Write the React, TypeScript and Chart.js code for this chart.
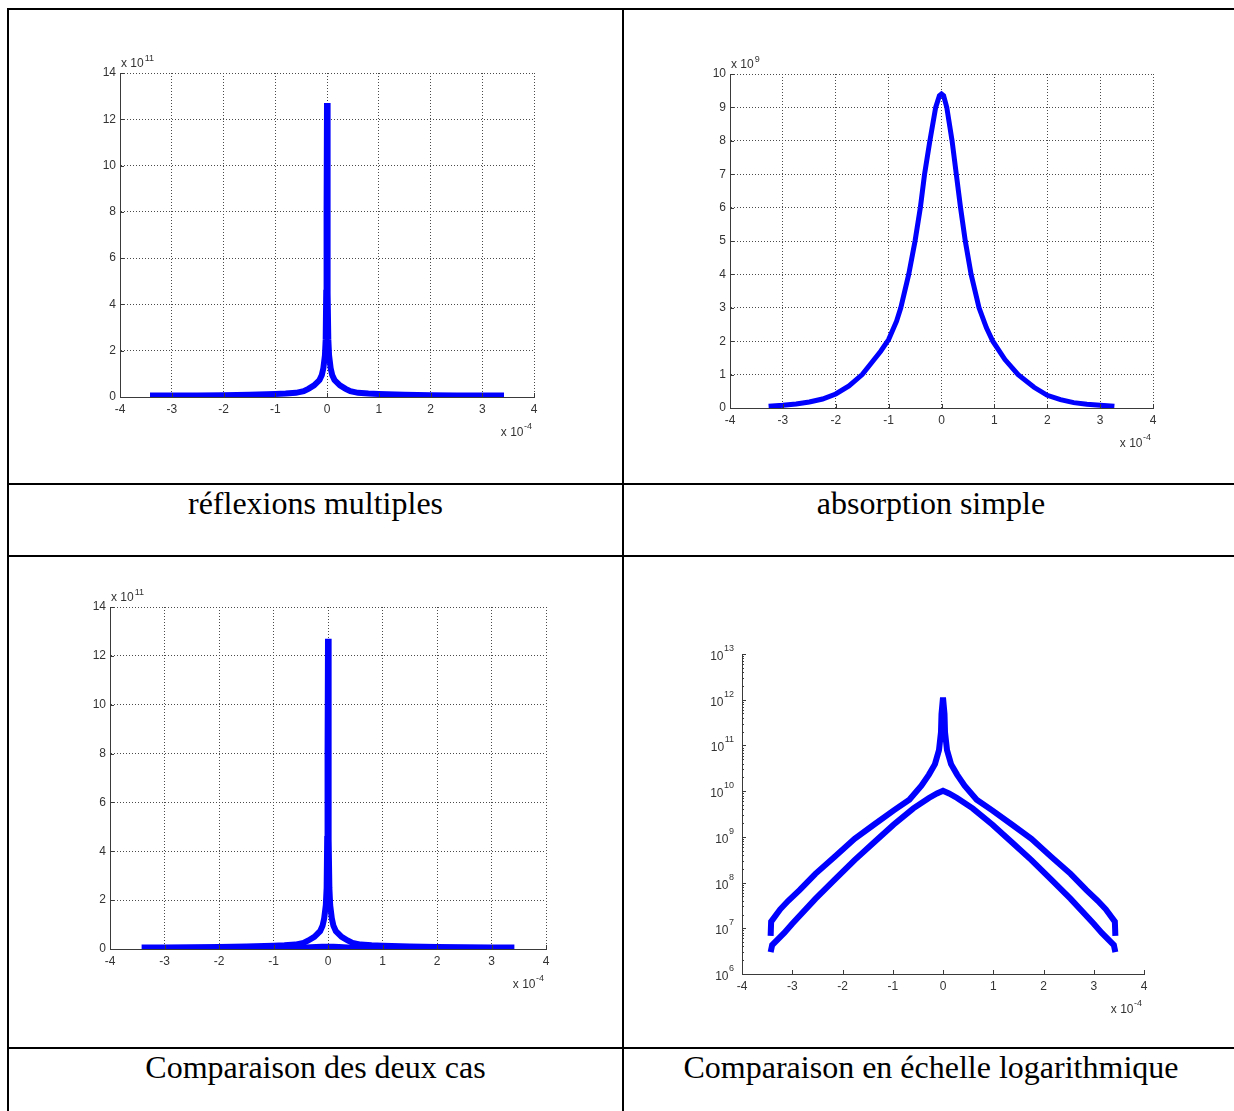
import React, { useEffect, useRef } from 'react';
import { Chart, registerables } from 'chart.js';

Chart.register(...registerables);

// ---------- data (x in units of 1e-4) ----------
const xLimits = [-4, 4];
const xStep = 1;

// réflexions multiples, linear figure (y in units of 1e11)
const mrX = [-3.42, -3.0, -2.5, -2.0, -1.5, -1.0, -0.8, -0.6, -0.45, -0.36, -0.25, -0.145, -0.1, -0.07, -0.04, -0.025, -0.015, -0.008, 0, 0.008, 0.015, 0.025, 0.04, 0.07, 0.1, 0.145, 0.25, 0.36, 0.45, 0.6, 0.8, 1.0, 1.5, 2.0, 2.5, 3.0, 3.42];
const mrY = [0.06, 0.06, 0.07, 0.08, 0.1, 0.13, 0.15, 0.18, 0.25, 0.35, 0.5, 0.73, 0.95, 1.25, 1.8, 2.5, 4.5, 8.0, 12.7, 8.0, 4.5, 2.5, 1.8, 1.25, 0.95, 0.73, 0.5, 0.35, 0.25, 0.18, 0.15, 0.13, 0.1, 0.08, 0.07, 0.06, 0.06];

// absorption simple, linear figure (y in units of 1e9)
const absX = [-3.27, -3.0, -2.75, -2.5, -2.25, -2.0, -1.75, -1.5, -1.3, -1.15, -1.0, -0.85, -0.77, -0.62, -0.5, -0.4, -0.32, -0.22, -0.11, -0.04, 0, 0.04, 0.1, 0.2, 0.28, 0.36, 0.45, 0.56, 0.71, 0.85, 0.97, 1.2, 1.45, 1.75, 2.0, 2.25, 2.5, 2.75, 3.0, 3.27];
const absY = [0.05, 0.08, 0.12, 0.18, 0.27, 0.42, 0.66, 1.0, 1.4, 1.7, 2.05, 2.6, 3.0, 4.0, 5.0, 6.0, 7.0, 8.0, 9.0, 9.35, 9.4, 9.35, 9.0, 8.0, 7.0, 6.0, 5.0, 4.0, 3.0, 2.4, 2.0, 1.45, 1.0, 0.62, 0.38, 0.25, 0.16, 0.11, 0.08, 0.05];

// logarithmic figure (raw values)
const logMrX = [-3.43, -3.42, -3.24, -3.08, -2.85, -2.54, -2.15, -1.76, -1.37, -0.98, -0.67, -0.43, -0.28, -0.16, -0.08, -0.04, -0.03, 0, 0.03, 0.04, 0.08, 0.16, 0.28, 0.43, 0.67, 0.98, 1.37, 1.76, 2.15, 2.54, 2.85, 3.08, 3.24, 3.42, 3.43];
const logMrY = [6.8e6, 1.4e7, 2.6e7, 4.0e7, 6.9e7, 1.55e8, 3.7e8, 9.1e8, 1.86e9, 3.8e9, 6.5e9, 1.32e10, 2.3e10, 3.9e10, 7.9e10, 1.95e11, 4.8e11, 1.12e12, 4.8e11, 1.95e11, 7.9e10, 3.9e10, 2.3e10, 1.32e10, 6.5e9, 3.8e9, 1.86e9, 9.1e8, 3.7e8, 1.55e8, 6.9e7, 4.0e7, 2.6e7, 1.4e7, 6.8e6];
const logAbsX = [-3.43, -3.40, -3.16, -3.0, -2.54, -2.15, -1.76, -1.37, -0.98, -0.59, -0.28, -0.12, 0, 0.12, 0.28, 0.59, 0.98, 1.37, 1.76, 2.15, 2.54, 3.0, 3.16, 3.40, 3.43];
const logAbsY = [3.0e6, 4.3e6, 7.9e6, 1.26e7, 4.4e7, 1.17e8, 3.1e8, 7.6e8, 1.86e9, 4.2e9, 7.1e9, 8.9e9, 1.02e10, 8.9e9, 7.1e9, 4.2e9, 1.86e9, 7.6e8, 3.1e8, 1.17e8, 4.4e7, 1.26e7, 7.9e6, 4.3e6, 3.0e6];

const logExponents = [6, 7, 8, 9, 10, 11, 12, 13];
const minorMultipliers = [2, 3, 4, 5, 6, 7, 8, 9];

const captions = ['réflexions multiples', 'absorption simple', 'Comparaison des deux cas', 'Comparaison en échelle logarithmique'];

// ---------- styles ----------
const FONT_FAMILY = "'Liberation Sans', Arial, sans-serif";
const TEXT = '#333333';
const AXIS = '#3a3a3a';
const GRID = '#4a4a4a';
const BLUE = '#0000ff';

const pts = (xs: number[], ys: number[], scale = 1) => xs.map((x, i) => ({ x, y: ys[i] * scale }));

const matlabPlugin = {
  id: 'matlab',
  afterDraw(chart: any, _args: any, opts: any) {
    const { ctx, chartArea: a, scales } = chart;
    const x = scales.x;
    const y = scales.y;
    ctx.save();
    ctx.strokeStyle = AXIS;
    ctx.lineWidth = 1;
    const seg = (x1: number, y1: number, x2: number, y2: number) => {
      ctx.beginPath();
      ctx.moveTo(x1, y1);
      ctx.lineTo(x2, y2);
      ctx.stroke();
    };
    const bottom = Math.round(a.bottom);
    const left = Math.round(a.left);
    x.ticks.forEach((t: any) => {
      const px = Math.round(x.getPixelForValue(t.value)) + 0.5;
      seg(px, bottom, px, bottom - 4);
    });
    ctx.fillStyle = TEXT;
    if (opts.log) {
      logExponents.forEach((e) => {
        const py = Math.round(y.getPixelForValue(Math.pow(10, e))) + 0.5;
        seg(left, py, left + 4, py);
        if (e < logExponents[logExponents.length - 1]) {
          minorMultipliers.forEach((m) => {
            const my = Math.round(y.getPixelForValue(m * Math.pow(10, e))) + 0.5;
            seg(left, my, left + 2, my);
          });
        }
        ctx.textBaseline = 'alphabetic';
        ctx.textAlign = 'right';
        ctx.font = `9px ${FONT_FAMILY}`;
        const expStr = String(e);
        const ew = ctx.measureText(expStr).width;
        const rx = left - 8;
        ctx.fillText(expStr, rx, py - 4);
        ctx.font = `12px ${FONT_FAMILY}`;
        ctx.fillText('10', rx - ew - 0.5, py + 5.5);
      });
    } else {
      y.ticks.forEach((t: any) => {
        const py = Math.round(y.getPixelForValue(t.value)) + 0.5;
        seg(left, py, left + 4, py);
      });
    }
    ctx.textBaseline = 'alphabetic';
    if (opts.yExp) {
      ctx.textAlign = 'left';
      ctx.font = `12px ${FONT_FAMILY}`;
      const bx = a.left + 1;
      const by = a.top - 6;
      ctx.fillText('x 10', bx, by);
      const w = ctx.measureText('x 10').width;
      ctx.font = `9px ${FONT_FAMILY}`;
      ctx.fillText(opts.yExp, bx + w + 1, by - 6);
    }
    if (opts.xExp) {
      ctx.textAlign = 'right';
      ctx.font = `9px ${FONT_FAMILY}`;
      const rx = a.right - 2;
      const by = a.bottom + 39;
      const ew = ctx.measureText(opts.xExp).width;
      ctx.fillText(opts.xExp, rx, by - 7);
      ctx.font = `12px ${FONT_FAMILY}`;
      ctx.fillText('x 10', rx - ew - 0.5, by);
    }
    ctx.restore();
  },
};

type Box = { yW: number; pt: number; pr: number; xH: number };

function xScale(box: Box, showGrid: boolean) {
  return {
    type: 'linear',
    position: 'bottom',
    min: xLimits[0],
    max: xLimits[1],
    ticks: { stepSize: xStep, padding: 5, font: { family: FONT_FAMILY, size: 12 }, color: TEXT, maxRotation: 0, autoSkip: false },
    grid: { display: true, drawOnChartArea: showGrid, color: GRID, lineWidth: 1, drawTicks: false },
    border: { display: true, color: AXIS, width: 1, dash: [1, 2] },
    afterFit: (s: any) => { s.height = box.xH; },
  };
}

function baseOptions(box: Box, plug: any, yScale: any, showGrid: boolean) {
  return {
    animation: false,
    responsive: false,
    devicePixelRatio: 1,
    events: [],
    layout: { padding: { left: 0, top: box.pt, right: box.pr, bottom: 0 } },
    plugins: { legend: { display: false }, tooltip: { enabled: false }, matlab: plug },
    elements: { point: { radius: 0 }, line: { tension: 0 } },
    scales: { x: xScale(box, showGrid), y: yScale },
  };
}

function linearY(box: Box, max: number, step: number) {
  return {
    type: 'linear',
    position: 'left',
    min: 0,
    max,
    ticks: { stepSize: step, padding: 4, font: { family: FONT_FAMILY, size: 12 }, color: TEXT },
    grid: { display: true, color: GRID, lineWidth: 1, drawTicks: false },
    border: { display: true, color: AXIS, width: 1, dash: [1, 2] },
    afterFit: (s: any) => { s.width = box.yW; },
  };
}

const ds = (data: any[], w: number) => ({ data, borderColor: BLUE, backgroundColor: BLUE, borderWidth: w, pointRadius: 0, fill: false });

const box1: Box = { yW: 110, pt: 63, pr: 86, xH: 83 };
const box2: Box = { yW: 105, pt: 64, pr: 81, xH: 72 };
const box3: Box = { yW: 100, pt: 50, pr: 74, xH: 96 };
const box4: Box = { yW: 117, pt: 97, pr: 90, xH: 71 };

const chart1 = () => ({
  type: 'line',
  data: { datasets: [ds(pts(mrX, mrY), 6)] },
  options: baseOptions(box1, { yExp: '11', xExp: '-4' }, linearY(box1, 14, 2), true),
  plugins: [matlabPlugin],
});
const chart2 = () => ({
  type: 'line',
  data: { datasets: [ds(pts(absX, absY), 5)] },
  options: baseOptions(box2, { yExp: '9', xExp: '-4' }, linearY(box2, 10, 1), true),
  plugins: [matlabPlugin],
});
const chart3 = () => ({
  type: 'line',
  data: { datasets: [ds(pts(mrX, mrY), 6), ds(pts(absX, absY, 0.01), 6)] },
  options: baseOptions(box3, { yExp: '11', xExp: '-4' }, linearY(box3, 14, 2), true),
  plugins: [matlabPlugin],
});
const chart4 = () => ({
  type: 'line',
  data: { datasets: [ds(pts(logMrX, logMrY), 6), ds(pts(logAbsX, logAbsY), 6)] },
  options: baseOptions(
    box4,
    { xExp: '-4', log: true },
    {
      type: 'logarithmic',
      position: 'left',
      min: Math.pow(10, logExponents[0]),
      max: Math.pow(10, logExponents[logExponents.length - 1]),
      ticks: { display: false },
      grid: { display: true, drawOnChartArea: false, drawTicks: false },
      border: { display: true, color: AXIS, width: 1 },
      afterFit: (s: any) => { s.width = box4.yW; },
    },
    false
  ),
  plugins: [matlabPlugin],
});

function ChartBox({ left, top, width, height, build }: { left: number; top: number; width: number; height: number; build: () => any }) {
  const ref = useRef<HTMLCanvasElement>(null);
  useEffect(() => {
    const chart = new Chart(ref.current as HTMLCanvasElement, build());
    return () => chart.destroy();
  }, []);
  return <canvas ref={ref} width={width} height={height} style={{ position: 'absolute', left, top, width, height, display: 'block' }} />;
}

const line = (left: number, top: number, width: number, height: number) => (
  <div style={{ position: 'absolute', left, top, width, height, background: '#000' }} />
);

const captionStyle = (left: number, top: number, width: number): React.CSSProperties => ({
  position: 'absolute',
  left,
  top,
  width,
  textAlign: 'center',
  fontFamily: "'Liberation Serif', 'Times New Roman', serif",
  fontSize: 32,
  lineHeight: '32px',
  color: '#000',
  whiteSpace: 'nowrap',
});

export default function App() {
  return (
    <div style={{ position: 'fixed', left: 0, top: 0, width: 1234, height: 1111, overflow: 'hidden', background: '#fff' }}>
      {line(7, 8, 1240, 2)}
      {line(7, 8, 2, 1110)}
      {line(622, 8, 2, 1110)}
      {line(7, 483, 1240, 2)}
      {line(7, 555, 1240, 2)}
      {line(7, 1047, 1240, 2)}
      <ChartBox left={10} top={10} width={610} height={470} build={chart1} />
      <ChartBox left={625} top={10} width={609} height={470} build={chart2} />
      <ChartBox left={10} top={557} width={610} height={488} build={chart3} />
      <ChartBox left={625} top={557} width={609} height={488} build={chart4} />
      <div style={captionStyle(9, 487, 613)}>{captions[0]}</div>
      <div style={captionStyle(624, 487, 614)}>{captions[1]}</div>
      <div style={captionStyle(9, 1051, 613)}>{captions[2]}</div>
      <div style={captionStyle(624, 1051, 614)}>{captions[3]}</div>
    </div>
  );
}
